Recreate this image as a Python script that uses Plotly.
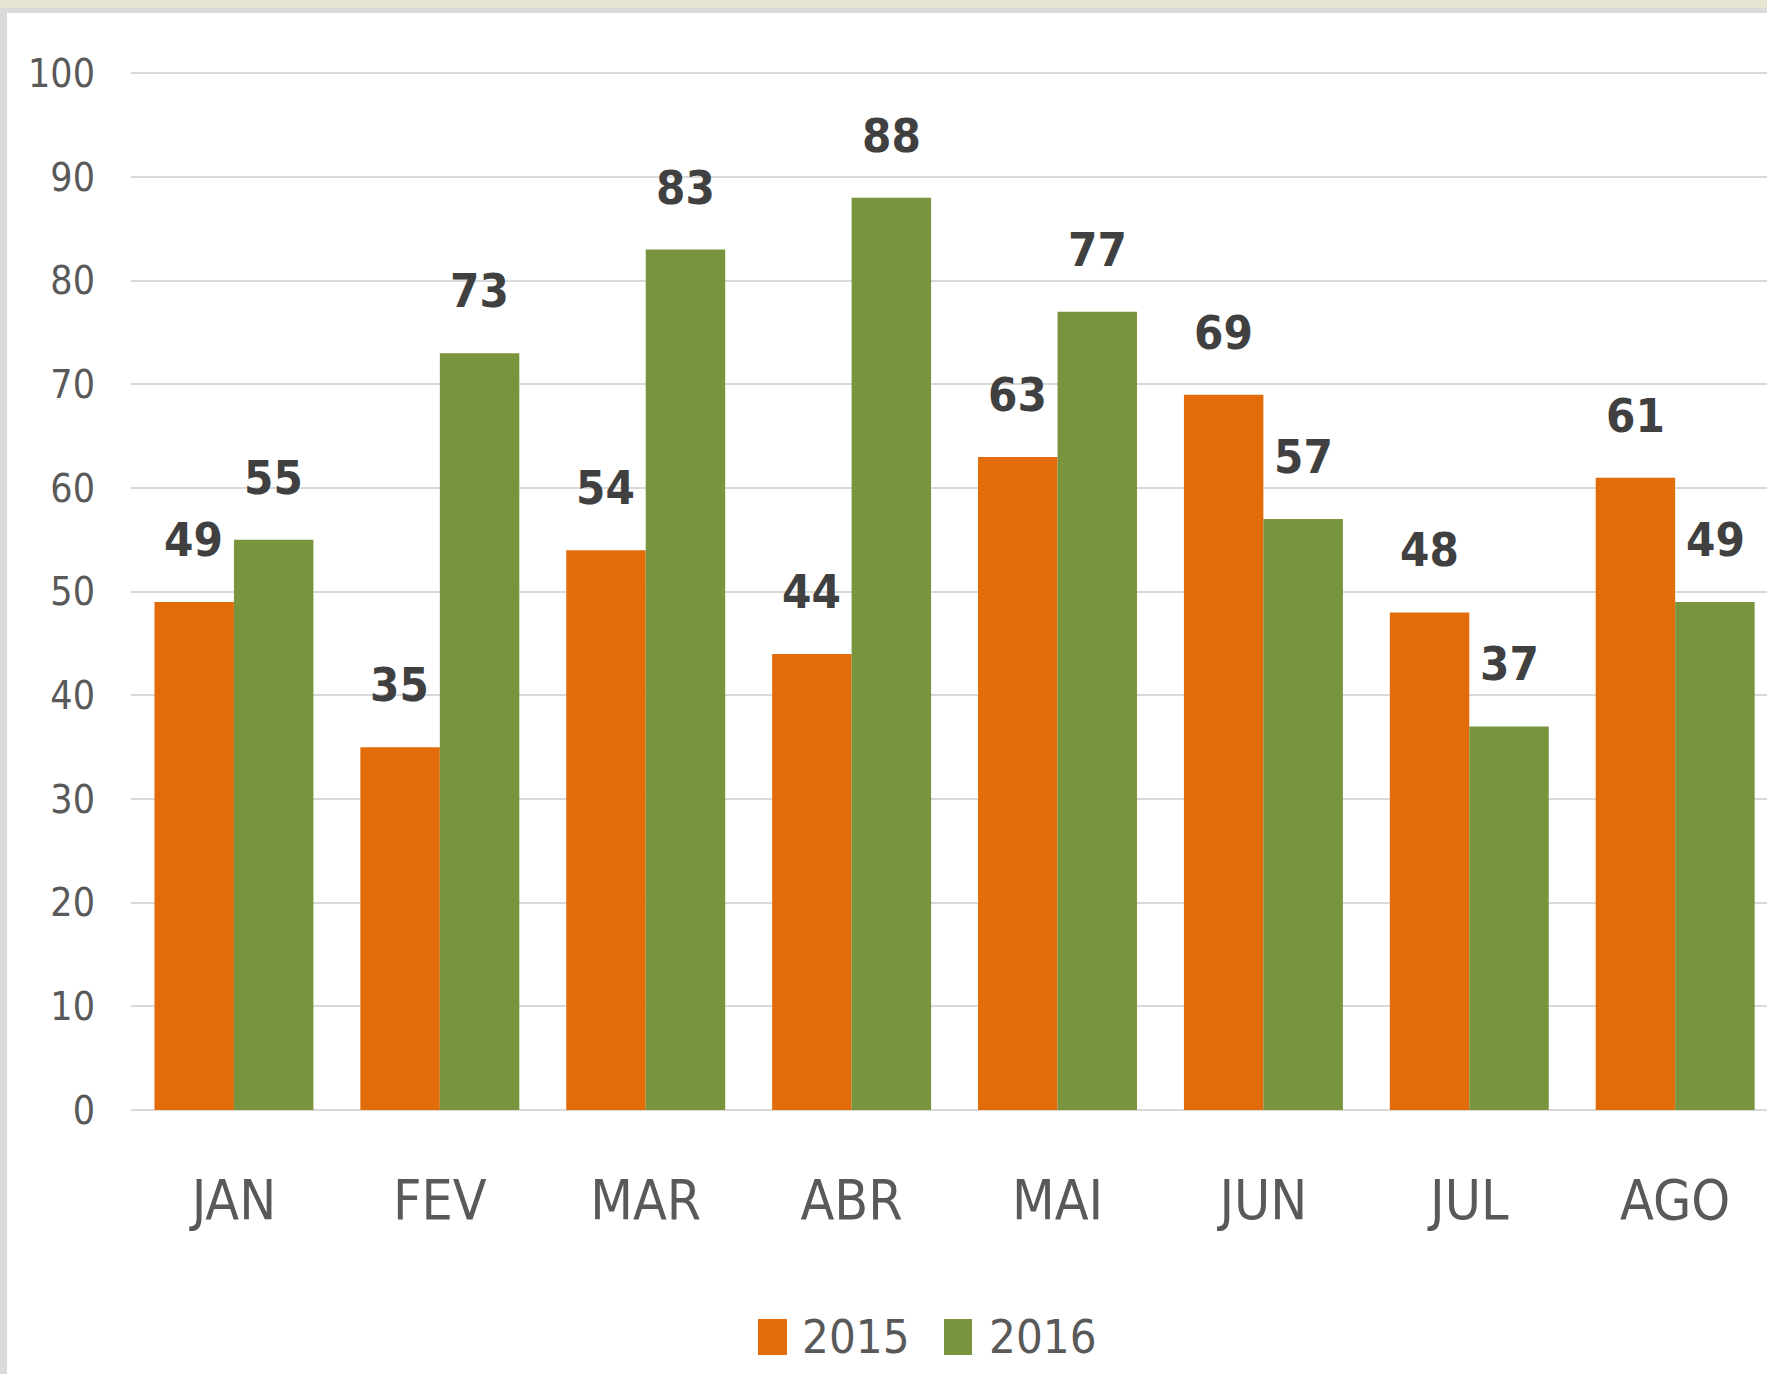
import plotly.graph_objects as go

months = ["JAN", "FEV", "MAR", "ABR", "MAI", "JUN", "JUL", "AGO"]
values_2015 = [49, 35, 54, 44, 63, 69, 48, 61]
values_2016 = [55, 73, 83, 88, 77, 57, 37, 49]
series_names = ["2015", "2016"]
y_ticks = [0, 10, 20, 30, 40, 50, 60, 70, 80, 90, 100]

C2015 = "#E36C0A"
C2016 = "#78943C"
FONT = "DejaVu Sans Condensed, Liberation Sans Narrow, sans-serif"

W, H = 1767, 1374
ML, MR, MT, MB = 131, 0, 63, 264
PW = W - ML - MR
PH = H - MT - MB
Y_TOP = 101.0

def px_x(p):
    return (p - ML) / PW

def px_y(p):
    return (H - MB - p) / PH

fig = go.Figure()
fig.add_trace(go.Bar(x=months, y=values_2015, name=series_names[0],
                     marker=dict(color=C2015, line=dict(width=0)), showlegend=False))
fig.add_trace(go.Bar(x=months, y=values_2016, name=series_names[1],
                     marker=dict(color=C2016, line=dict(width=0)), showlegend=False))

annotations = []
for vals, shift in ((values_2015, -40), (values_2016, 40)):
    for m, v in zip(months, vals):
        annotations.append(dict(x=m, y=v, xref="x", yref="y", text=str(v),
                                showarrow=False, xshift=shift, yshift=33,
                                yanchor="bottom",
                                font=dict(family=FONT, size=47, color="#404040", weight="bold")))

# legend built from squares + text
legend_items = [(series_names[0], C2015, 758, 787, 800), (series_names[1], C2016, 944, 972, 987)]
shapes = []
for name, col, x0, x1, tx in legend_items:
    shapes.append(dict(type="rect", xref="paper", yref="paper",
                       x0=px_x(x0), x1=px_x(x1), y0=px_y(1355), y1=px_y(1319),
                       fillcolor=col, line=dict(width=0)))
    annotations.append(dict(x=px_x(tx), y=px_y(1336), xref="paper", yref="paper",
                            text=name, showarrow=False, xanchor="left", yanchor="middle",
                            font=dict(family=FONT, size=47, color="#595959")))

# frame decoration (top band and left border)
shapes.append(dict(type="rect", xref="paper", yref="paper", x0=px_x(0), x1=px_x(W),
                   y0=px_y(8), y1=px_y(0), fillcolor="#E8E4D2", line=dict(width=0), layer="above"))
shapes.append(dict(type="rect", xref="paper", yref="paper", x0=px_x(0), x1=px_x(W),
                   y0=px_y(13), y1=px_y(8), fillcolor="#DADADA", line=dict(width=0), layer="above"))
shapes.append(dict(type="rect", xref="paper", yref="paper", x0=px_x(0), x1=px_x(7),
                   y0=px_y(H), y1=px_y(8), fillcolor="#DADADA", line=dict(width=0), layer="above"))

fig.update_layout(
    width=W, height=H,
    margin=dict(l=ML, r=MR, t=MT, b=MB, pad=0, autoexpand=False),
    paper_bgcolor="white", plot_bgcolor="white",
    barmode="group", bargap=0.228, bargroupgap=0,
    showlegend=False,
    annotations=annotations, shapes=shapes,
    xaxis=dict(range=[-0.5, 7.446], showgrid=False, showline=False, zeroline=False,
               automargin=False, ticks="", ticklabelstandoff=53,
               tickfont=dict(family=FONT, size=55, color="#595959")),
    yaxis=dict(range=[0, Y_TOP], tickvals=y_ticks, showgrid=True, gridcolor="#D9D9D9",
               gridwidth=2, zeroline=True, zerolinecolor="#D9D9D9", zerolinewidth=2,
               automargin=False, showline=False, ticks="", ticklabelstandoff=35,
               tickfont=dict(family=FONT, size=39, color="#595959")),
)

fig.write_html("out.html", config={"displayModeBar": False},
               post_script="document.body.style.margin='0';document.body.style.overflow='hidden';")
